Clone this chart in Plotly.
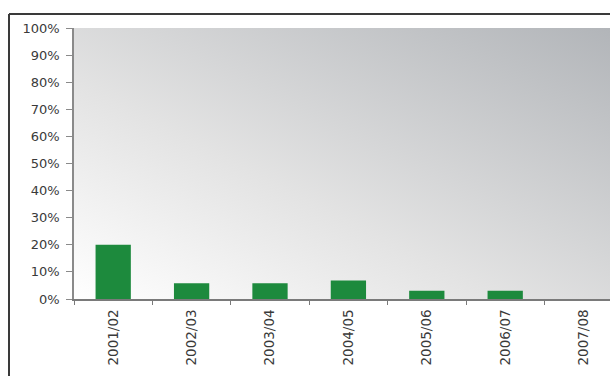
import base64
import plotly.graph_objects as go

categories = ["2001/02", "2002/03", "2003/04", "2004/05", "2005/06", "2006/07", "2007/08"]
values = [0.20, 0.058, 0.058, 0.068, 0.030, 0.030, 0.0]
y_tick_vals = [i / 10 for i in range(11)]
y_tick_text = [f"{i * 10}%" for i in range(11)]

W, H = 610, 376
L, T, B, R = 74, 28, 77, 0
pw, ph = W - L - R, H - T - B
cat_w = 78.4

svg = f'''<svg xmlns="http://www.w3.org/2000/svg" width="{pw}" height="{ph}" viewBox="0 0 {pw} {ph}" preserveAspectRatio="none">
<defs><linearGradient id="g" x1="0" y1="1" x2="1" y2="0">
<stop offset="0" stop-color="#ffffff"/>
<stop offset="0.4" stop-color="#e3e3e3"/>
<stop offset="1" stop-color="#b2b5b9"/>
</linearGradient></defs>
<rect width="{pw}" height="{ph}" fill="url(#g)"/>
</svg>'''
src = "data:image/svg+xml;base64," + base64.b64encode(svg.encode()).decode()

fig = go.Figure(go.Bar(
    x=categories, y=values, width=0.45,
    marker=dict(color="#1d8a3d", line=dict(width=0)),
))

font = dict(family="DejaVu Sans, Arial, sans-serif", size=13, color="#3a3a3a")
fx0 = (9 - L) / pw
fy1 = 1 + (T - 14) / ph

fig.update_layout(
    width=W, height=H,
    margin=dict(l=L, r=R, t=T, b=B, pad=0),
    paper_bgcolor="white", plot_bgcolor="rgba(0,0,0,0)",
    showlegend=False,
    images=[dict(source=src, xref="paper", yref="paper", x=0, y=1, sizex=1, sizey=1,
                 xanchor="left", yanchor="top", sizing="stretch", layer="below")],
    shapes=[
        dict(type="line", xref="paper", yref="paper", x0=fx0, x1=1.0, y0=fy1, y1=fy1,
             line=dict(color="#3a3a3a", width=2), layer="above"),
        dict(type="line", xref="paper", yref="paper", x0=fx0, x1=fx0, y0=-B / ph, y1=fy1,
             line=dict(color="#3a3a3a", width=2), layer="above"),
    ],
)
fig.update_xaxes(
    range=[-0.5, -0.5 + pw / cat_w], type="category",
    showgrid=False, showline=True, linecolor="#7a7a7a", linewidth=2,
    ticks="outside", ticklen=4, tickcolor="#7a7a7a", tickson="boundaries",
    tickangle=-90, tickfont=dict(font, size=13.5), ticklabelstandoff=3,
    zeroline=False,
)
fig.update_yaxes(
    range=[0, 1], tickvals=y_tick_vals, ticktext=y_tick_text,
    showgrid=False, showline=True, linecolor="#8a8a8a", linewidth=1.5,
    ticks="outside", ticklen=6, tickcolor="#8a8a8a",
    tickfont=font, zeroline=False, ticklabelstandoff=4,
)
fig.write_html("out.html", config={"displayModeBar": False})
